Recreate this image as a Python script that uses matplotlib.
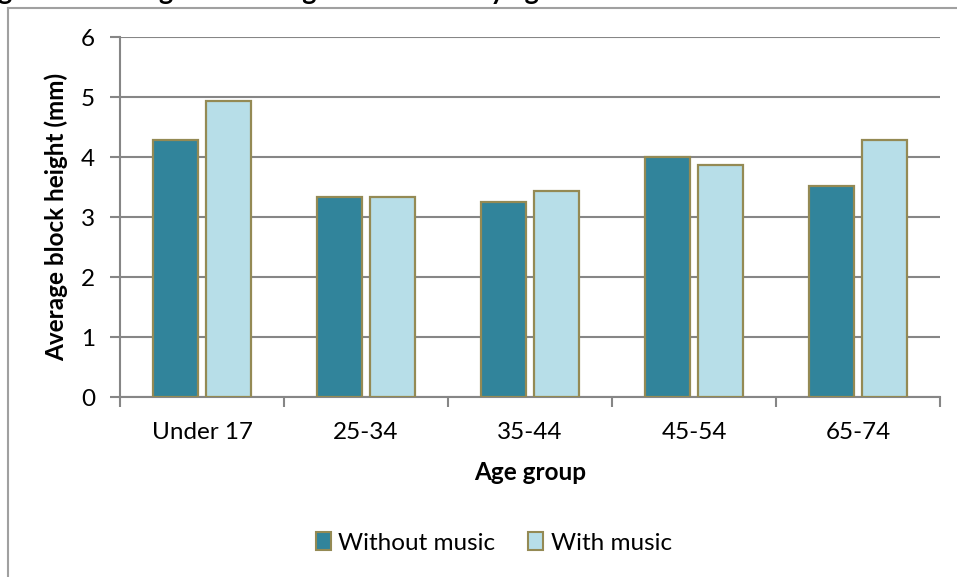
import matplotlib
matplotlib.use("Agg")
import matplotlib.pyplot as plt
from matplotlib.lines import Line2D
from matplotlib.patches import Patch
import numpy as np

# Data
age_groups = ["Under 17", "25-34", "35-44", "45-54", "65-74"]
without_music = [4.29, 3.34, 3.25, 4.00, 3.51]
with_music = [4.93, 3.33, 3.43, 3.87, 4.29]
series_names = ["Without music", "With music"]
y_ticks = [0, 1, 2, 3, 4, 5, 6]
title_text = "Figure 4: Average block height and music by age"

# Styling
DARK = "#31849B"
LIGHT = "#B7DEE8"
EDGE = "#948A54"
GRID = "#868686"
FONT = "Lato"
FS = 17.5

plt.rcParams["font.family"] = [FONT, "DejaVu Sans"]

W, H = 957, 577
fig = plt.figure(figsize=(W / 100, H / 100), dpi=100)
fig.patch.set_facecolor("white")

def fx(px):
    return px / W

def fy(py):
    return 1 - py / H

ax = fig.add_axes([fx(120), fy(397), fx(940) - fx(120), fy(37) - fy(397)])

x = np.arange(len(age_groups))
bar_w = 0.28
off = 0.1615
ax.bar(x - off, without_music, bar_w, color=DARK, edgecolor=EDGE, linewidth=1.6, zorder=3)
ax.bar(x + off, with_music, bar_w, color=LIGHT, edgecolor=EDGE, linewidth=1.6, zorder=3)

ax.set_xlim(-0.5, len(age_groups) - 0.5)
ax.set_ylim(0, 6)
ax.set_yticks(y_ticks)
ax.set_yticklabels([str(t) for t in y_ticks], fontsize=FS)
ax.yaxis.grid(True, color=GRID, linewidth=1.5, zorder=0)
ax.set_axisbelow(True)

# Category labels at centres, tick marks at category boundaries
ax.set_xticks(x)
ax.set_xticklabels(age_groups, fontsize=FS)
ax.tick_params(axis="x", which="major", length=0, pad=18)
ax.set_xticks(np.arange(-0.5, len(age_groups) + 0.5, 1.0), minor=True)
ax.tick_params(axis="x", which="minor", length=7, width=1.5, color=GRID, direction="out")
ax.tick_params(axis="y", length=7, width=1.5, color=GRID, direction="out", pad=11)

for side in ["top", "right"]:
    ax.spines[side].set_visible(False)
for side in ["left", "bottom"]:
    ax.spines[side].set_color(GRID)
    ax.spines[side].set_linewidth(1.5)

ax.set_ylabel("Average block height (mm)", fontsize=FS, fontweight="bold", labelpad=9)
ax.set_xlabel("Age group", fontsize=FS, fontweight="bold", labelpad=13)

handles = [Patch(facecolor=DARK, edgecolor=EDGE, linewidth=1.5),
           Patch(facecolor=LIGHT, edgecolor=EDGE, linewidth=1.5)]
fig.legend(handles, series_names, loc="center", bbox_to_anchor=(fx(494), fy(543)),
           ncol=2, frameon=False, fontsize=FS, handlelength=0.62, handleheight=0.75,
           handletextpad=0.3, columnspacing=1.35)

# Chart frame, extending past the right and bottom edges
fig.add_artist(Line2D([fx(8), fx(8)], [fy(8), fy(600)], color="#A0A0A0", linewidth=1.5))
fig.add_artist(Line2D([fx(8), fx(980)], [fy(8), fy(8)], color="#A0A0A0", linewidth=1.5))

# Title sitting just above the top edge: size and offset chosen so the
# "g" of "Average" sits at x=166 px and the "y" of "by" at x=498 px.
renderer = fig.canvas.get_renderer()

def text_width(s, size):
    t = fig.text(0, 0, s, fontsize=size, fontweight="bold")
    w = t.get_window_extent(renderer).width
    t.remove()
    return w

def char_centre(s, i, size):
    return text_width(s[:i + 1], size) - text_width(s[i], size) / 2

i_g = title_text.index("Average") + 5
i_y = title_text.index("by") + 1
ref_size = 10.0
span = char_centre(title_text, i_y, ref_size) - char_centre(title_text, i_g, ref_size)
title_size = ref_size * (498 - 166) / span
x0 = 166 - char_centre(title_text, i_g, title_size)
fig.text(fx(x0), fy(-0.5), title_text, fontsize=title_size, fontweight="bold",
         ha="left", va="baseline")

fig.savefig("out.png", dpi=100)
